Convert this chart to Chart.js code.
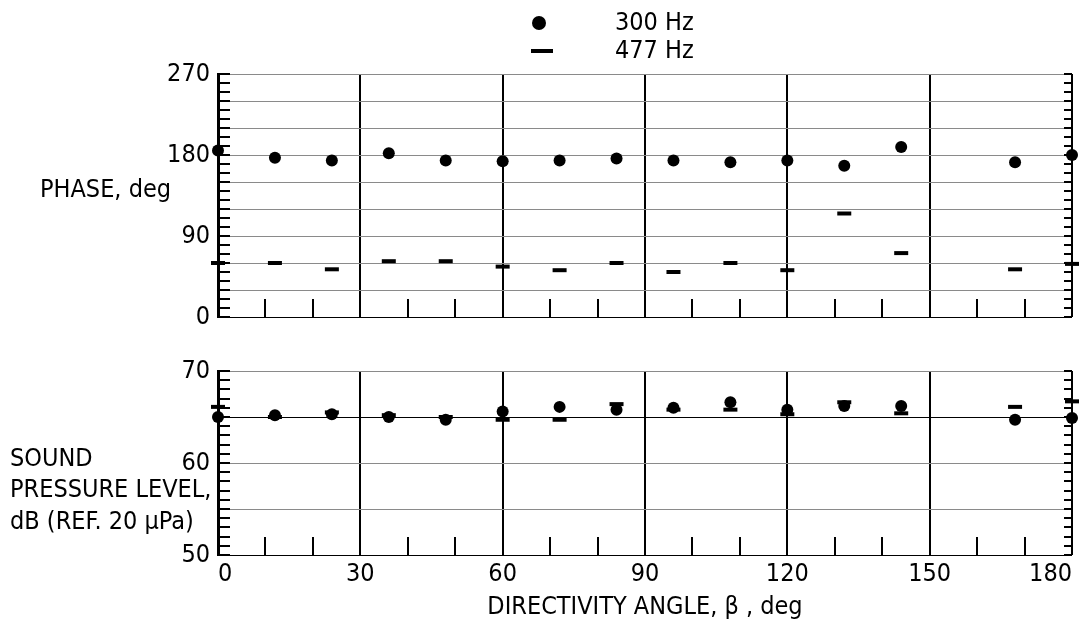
<!DOCTYPE html>
<html>
<head>
<meta charset="utf-8">
<script src="https://cdn.jsdelivr.net/npm/chart.js@4"></script>
<style>
  html, body { margin: 0; padding: 0; background: #fff; }
  #wrap { position: relative; width: 1086px; height: 632px; }
  canvas { position: absolute; left: 0; }
  #top { top: 0; }
  #bot { top: 340px; }
</style>
</head>
<body>
<div id="wrap">
  <canvas id="top" width="1086" height="340"></canvas>
  <canvas id="bot" width="1086" height="292"></canvas>
</div>
<script>
// directivity angles (deg) where both frequencies were measured
const angles = [0, 12, 24, 36, 48, 60, 72, 84, 96, 108, 120, 132, 144, 168, 180];

// phase, deg
const phase300 = [185, 177, 174, 182, 174, 173, 174, 176, 174, 172, 174, 168, 189, 172, 180];
const phase477 = [60, 60, 53, 62, 62, 56, 52, 60, 50, 60, 52, 115, 71, 53, 59];

// sound pressure level, dB
const spl300 = [65.0, 65.2, 65.3, 65.0, 64.7, 65.6, 66.1, 65.8, 66.0, 66.6, 65.8, 66.2, 66.2, 64.7, 64.9];
const spl477 = [66.1, 65.0, 65.5, 65.2, 65.0, 64.7, 64.7, 66.4, 65.8, 65.8, 65.3, 66.6, 65.4, 66.1, 66.7];

// tick labels
const angleTicks = [0, 30, 60, 90, 120, 150, 180];
const phaseTicks = [0, 90, 180, 270];
const splTicks = [50, 60, 70];

const FONT = "'Liberation Sans Narrow', 'DejaVu Sans Condensed', 'Roboto', sans-serif";
Chart.defaults.font.family = FONT;
Chart.defaults.color = '#000';

function pts(vals) {
  return angles.map((a, i) => ({ x: a, y: vals[i] }));
}

function datasets(v300, v477) {
  return [
    {
      label: '300 Hz', data: pts(v300), order: 1, clip: false,
      pointStyle: 'circle', pointRadius: 6, pointHoverRadius: 6,
      pointBackgroundColor: '#000', pointBorderColor: '#000', pointBorderWidth: 0
    },
    {
      label: '477 Hz', data: pts(v477), order: 0, clip: false,
      pointStyle: 'line', pointRadius: 7, pointHoverRadius: 7,
      pointBorderColor: '#000', pointBorderWidth: 4
    }
  ];
}

// small inward ticks on the left, right and bottom edges of each panel
const minorTicks = {
  id: 'minorTicks',
  beforeDatasetsDraw(chart, args, opts) {
    const { ctx, chartArea: a, scales: { x, y } } = chart;
    ctx.save();
    ctx.strokeStyle = '#000';
    ctx.lineWidth = 2;
    ctx.beginPath();
    for (let v = y.min; v <= y.max + 1e-9; v += opts.yStep) {
      const py = Math.round(y.getPixelForValue(v));
      ctx.moveTo(a.left, py); ctx.lineTo(a.left + 12, py);
      ctx.moveTo(a.right, py); ctx.lineTo(a.right - 8, py);
    }
    for (let v = x.min; v <= x.max; v += 10) {
      const px = Math.round(x.getPixelForValue(v));
      ctx.moveTo(px, a.bottom); ctx.lineTo(px, a.bottom - 18);
    }
    ctx.stroke();
    ctx.restore();
  }
};

// free text: axis titles and the legend
const notes = {
  id: 'notes',
  afterDraw(chart, args, opts) {
    const ctx = chart.ctx;
    ctx.save();
    ctx.fillStyle = '#000';
    ctx.font = '25px ' + FONT;
    ctx.textBaseline = 'middle';
    ctx.textAlign = 'left';
    (opts.lines || []).forEach(l => ctx.fillText(l[0], l[1], l[2]));
    if (opts.legend) {
      ctx.beginPath();
      ctx.arc(539, 23, 7, 0, Math.PI * 2);
      ctx.fill();
      ctx.fillRect(531, 49, 22, 4);
    }
    ctx.restore();
  }
};

function xScale(showLabels) {
  return {
    type: 'linear', min: 0, max: 180,
    afterFit(s) { s.height = showLabels ? 77 : 0; s.paddingLeft = 0; s.paddingRight = 0; },
    ticks: {
      display: showLabels, stepSize: 30, padding: 4, font: { size: 25 },
      maxRotation: 0, autoSkip: false, align: 'inner',
      callback: v => angleTicks.includes(v) ? String(v) : ''
    },
    grid: { color: '#000', lineWidth: 2, drawTicks: false },
    border: { display: false },
    title: {
      display: showLabels, text: 'DIRECTIVITY ANGLE, \u03b2 , deg',
      font: { size: 25 }, padding: { top: 4, bottom: 10 }
    }
  };
}

new Chart(document.getElementById('top'), {
  type: 'scatter',
  data: { datasets: datasets(phase300, phase477) },
  options: {
    responsive: false, animation: false,
    layout: { padding: { top: 74, right: 14, bottom: 17, left: 0 } },
    plugins: {
      legend: { display: false }, tooltip: { enabled: false },
      minorTicks: { yStep: 10 },
      notes: { legend: true, lines: [['PHASE, deg', 40, 190], ['300 Hz', 615, 23], ['477 Hz', 615, 51]] }
    },
    scales: {
      x: xScale(false),
      y: {
        min: 0, max: 270,
        afterFit(s) { s.width = 218; },
        ticks: {
          stepSize: 30, padding: 8, font: { size: 25 }, autoSkip: false,
          callback: v => phaseTicks.includes(v) ? String(v) : ''
        },
        grid: { color: c => (c.tick && c.tick.value === 0) ? '#000' : '#8a8a8a', lineWidth: 1, drawTicks: false },
        border: { color: '#000', width: 3 }
      }
    }
  },
  plugins: [minorTicks, notes]
});

new Chart(document.getElementById('bot'), {
  type: 'scatter',
  data: { datasets: datasets(spl300, spl477) },
  options: {
    responsive: false, animation: false,
    layout: { padding: { top: 31, right: 14, bottom: 0, left: 0 } },
    plugins: {
      legend: { display: false }, tooltip: { enabled: false },
      minorTicks: { yStep: 1 },
      notes: { lines: [['SOUND', 10, 119], ['PRESSURE LEVEL,', 10, 150], ['dB (REF. 20 \u03bcPa)', 10, 182]] }
    },
    scales: {
      x: xScale(true),
      y: {
        min: 50, max: 70,
        afterFit(s) { s.width = 218; },
        ticks: {
          stepSize: 5, padding: 8, font: { size: 25 }, autoSkip: false,
          callback: v => splTicks.includes(v) ? String(v) : ''
        },
        grid: { color: c => (c.tick && (c.tick.value === 65 || c.tick.value === 50)) ? '#000' : '#8a8a8a', lineWidth: 1, drawTicks: false },
        border: { color: '#000', width: 3 }
      }
    }
  },
  plugins: [minorTicks, notes]
});
</script>
</body>
</html>
